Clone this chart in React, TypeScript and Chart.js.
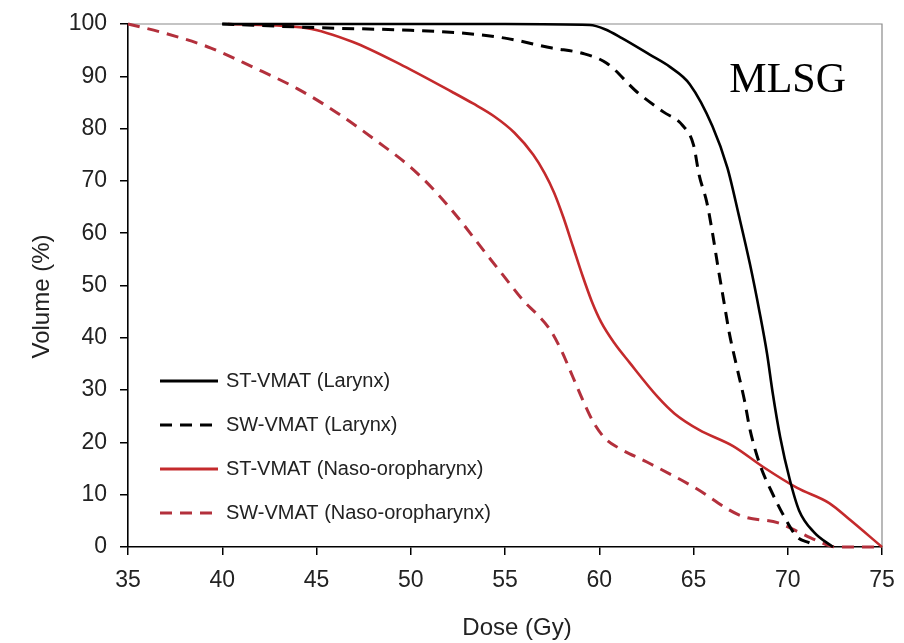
import React, { useEffect, useRef } from "react";
import { Chart, registerables } from "chart.js";

Chart.register(...registerables);

// ---- Data ----
const seriesLabels = [
  "ST-VMAT (Larynx)",
  "SW-VMAT (Larynx)",
  "ST-VMAT (Naso-oropharynx)",
  "SW-VMAT (Naso-oropharynx)",
];

const stLarynxDose = [40, 45, 50, 55, 59.5, 60.3, 61.2, 62.7, 63.75, 64.8, 66.0, 66.8, 67.4, 68.0, 68.5, 68.9, 69.2, 69.6, 70.1, 70.6, 71.4, 72.4];
const stLarynxVol = [100, 100, 100, 100, 99.8, 99.0, 97.3, 94.1, 91.8, 88.5, 80.5, 72.5, 63.5, 54.0, 45.0, 37.0, 29.5, 21.0, 13.0, 7.0, 2.8, 0];

const swLarynxDose = [40, 45, 50, 52.6, 55, 57.5, 59.1, 60.4, 62.0, 63.4, 64.4, 65.0, 65.3, 65.7, 66.0, 66.3, 66.6, 66.9, 67.3, 67.7, 68.0, 68.5, 69.1, 70.0, 70.5, 71.2, 71.5];
const swLarynxVol = [100, 99.3, 98.8, 98.3, 97.3, 95.4, 94.4, 92.5, 87.0, 83.2, 80.7, 76.9, 71.1, 66.0, 60.2, 53.5, 47.2, 40.9, 34.4, 28.1, 22.4, 16.0, 10.9, 4.6, 1.9, 0.7, 0];

const stNasoDose = [40.3, 44.5, 46.9, 49.6, 52.2, 53.3, 54.4, 55.5, 56.5, 57.1, 57.6, 58.1, 58.6, 59.1, 59.6, 60.1, 60.8, 61.6, 63.1, 64.0, 65.3, 67.1, 68.7, 70.5, 72.2, 73.3, 75];
const stNasoVol = [100, 99.2, 96.6, 92.0, 87.0, 84.8, 82.4, 79.2, 75.0, 71.5, 67.8, 63.0, 57.5, 52.0, 47.0, 43.0, 39.0, 35.3, 28.7, 25.5, 22.4, 19.3, 15.3, 11.3, 8.4, 5.2, 0];

const swNasoDose = [35, 37, 39.4, 41.6, 44, 46.1, 48.2, 50, 51.3, 52.5, 53.8, 55, 56, 56.7, 57.4, 58, 58.6, 59.2, 59.7, 60.3, 61, 62.5, 65, 67.5, 69.5, 70.5, 71.5, 72.6, 75];
const swNasoVol = [100, 98.2, 95.4, 91.8, 87.6, 83.0, 77.6, 72.6, 68.0, 63.0, 57.0, 51.5, 47.0, 44.5, 41.5, 37.5, 32.5, 27.5, 23.8, 20.8, 19.0, 16.3, 11.5, 6.0, 4.6, 3.0, 1.3, 0, 0];

const xTickValues = [35, 40, 45, 50, 55, 60, 65, 70, 75];
const yTickValues = [0, 10, 20, 30, 40, 50, 60, 70, 80, 90, 100];

const xTitle = "Dose (Gy)";
const yTitle = "Volume (%)";
const watermark = "MLSG";

// ---- Styling ----
const SANS = "'Liberation Sans', Arial, sans-serif";
const SERIF = "'Liberation Serif', 'Times New Roman', serif";
const RED_SOLID = "#C42A2C";
const RED_DASH = "#B3303C";
const DASH = [12, 8];

const toPoints = (xs: number[], ys: number[]) => xs.map((x, i) => ({ x, y: ys[i] }));

const frameAndTextPlugin = {
  id: "frameAndText",
  beforeDatasetsDraw(chart: any) {
    const { ctx, chartArea } = chart;
    ctx.save();
    ctx.strokeStyle = "#8a8a8a";
    ctx.lineWidth = 1.2;
    ctx.beginPath();
    ctx.moveTo(chartArea.left, chartArea.top);
    ctx.lineTo(chartArea.right, chartArea.top);
    ctx.lineTo(chartArea.right, chartArea.bottom);
    ctx.stroke();
    ctx.restore();
  },
  afterDraw(chart: any) {
    const { ctx, chartArea } = chart;
    ctx.save();
    // axis titles
    ctx.fillStyle = "#222";
    ctx.font = `24px ${SANS}`;
    ctx.textAlign = "center";
    ctx.textBaseline = "middle";
    ctx.fillText(xTitle, (chartArea.left + chartArea.right) / 2 + 12, 628);
    ctx.save();
    ctx.translate(42, (chartArea.top + chartArea.bottom) / 2 + 11);
    ctx.rotate(-Math.PI / 2);
    ctx.fillText(yTitle, 0, 0);
    ctx.restore();

    // watermark text
    ctx.fillStyle = "#000";
    ctx.font = `42px ${SERIF}`;
    ctx.textAlign = "right";
    ctx.textBaseline = "alphabetic";
    ctx.fillText(watermark, chartArea.right - 36, 92);

    // legend inside the plot area
    const ds = chart.data.datasets;
    const rowGap = 44;
    const firstY = chartArea.bottom - 166;
    const x0 = chartArea.left + 32;
    const x1 = chartArea.left + 90;
    ctx.font = `20px ${SANS}`;
    ctx.textAlign = "left";
    ctx.textBaseline = "middle";
    ds.forEach((d: any, i: number) => {
      const y = firstY + i * rowGap;
      ctx.save();
      ctx.strokeStyle = d.borderColor;
      ctx.lineWidth = 3;
      ctx.setLineDash(d.borderDash || []);
      ctx.beginPath();
      ctx.moveTo(x0, y);
      ctx.lineTo(x1, y);
      ctx.stroke();
      ctx.restore();
      ctx.fillStyle = "#222";
      ctx.fillText(d.label, x1 + 8, y);
    });
    ctx.restore();
  },
};

export default function App() {
  const ref = useRef<HTMLCanvasElement | null>(null);

  useEffect(() => {
    document.body.style.margin = "0";
    if (!ref.current) return;
    const chart = new Chart(ref.current, {
      type: "line",
      data: {
        datasets: [
          {
            label: seriesLabels[0],
            data: toPoints(stLarynxDose, stLarynxVol),
            borderColor: "#000",
            borderWidth: 2.6,
            borderDash: [],
          },
          {
            label: seriesLabels[1],
            data: toPoints(swLarynxDose, swLarynxVol),
            borderColor: "#000",
            borderWidth: 3,
            borderDash: DASH,
          },
          {
            label: seriesLabels[2],
            data: toPoints(stNasoDose, stNasoVol),
            borderColor: RED_SOLID,
            borderWidth: 2.6,
            borderDash: [],
          },
          {
            label: seriesLabels[3],
            data: toPoints(swNasoDose, swNasoVol),
            borderColor: RED_DASH,
            borderWidth: 3,
            borderDash: DASH,
          },
        ] as any,
      },
      options: {
        animation: false,
        responsive: false,
        maintainAspectRatio: false,
        layout: { padding: { left: 0, top: 24, right: 22, bottom: 0 } },
        elements: {
          point: { radius: 0, hoverRadius: 0 },
          line: { cubicInterpolationMode: "monotone", fill: false },
        },
        datasets: { line: { clip: 6 } } as any,
        plugins: {
          legend: { display: false },
          tooltip: { enabled: false },
        },
        scales: {
          x: {
            type: "linear",
            min: 35,
            max: 75,
            afterBuildTicks: (s: any) => {
              s.ticks = xTickValues.map((v) => ({ value: v }));
            },
            afterFit: (s: any) => {
              s.height = 96;
              s.paddingLeft = 0;
              s.paddingRight = 0;
            },
            grid: {
              drawOnChartArea: false,
              drawTicks: true,
              tickLength: 8,
              color: "#000",
              lineWidth: 1.5,
            },
            border: { display: true, color: "#000", width: 1.6 },
            ticks: {
              color: "#222",
              padding: 12,
              font: { family: SANS, size: 23 },
              maxRotation: 0,
              autoSkip: false,
            },
            title: { display: false },
          },
          y: {
            type: "linear",
            min: 0,
            max: 100,
            afterBuildTicks: (s: any) => {
              s.ticks = yTickValues.map((v) => ({ value: v }));
            },
            afterFit: (s: any) => {
              s.width = 128;
              s.paddingTop = 0;
              s.paddingBottom = 0;
            },
            grid: {
              drawOnChartArea: false,
              drawTicks: true,
              tickLength: 8,
              color: "#000",
              lineWidth: 1.5,
            },
            border: { display: true, color: "#000", width: 1.6 },
            ticks: {
              color: "#222",
              padding: 13,
              font: { family: SANS, size: 23 },
              autoSkip: false,
            },
            title: { display: false },
          },
        },
      },
      plugins: [frameAndTextPlugin],
    });
    return () => chart.destroy();
  }, []);

  return (
    <div style={{ width: 904, height: 643, background: "#fff" }}>
      <canvas ref={ref} width={904} height={643} style={{ display: "block" }} />
    </div>
  );
}
